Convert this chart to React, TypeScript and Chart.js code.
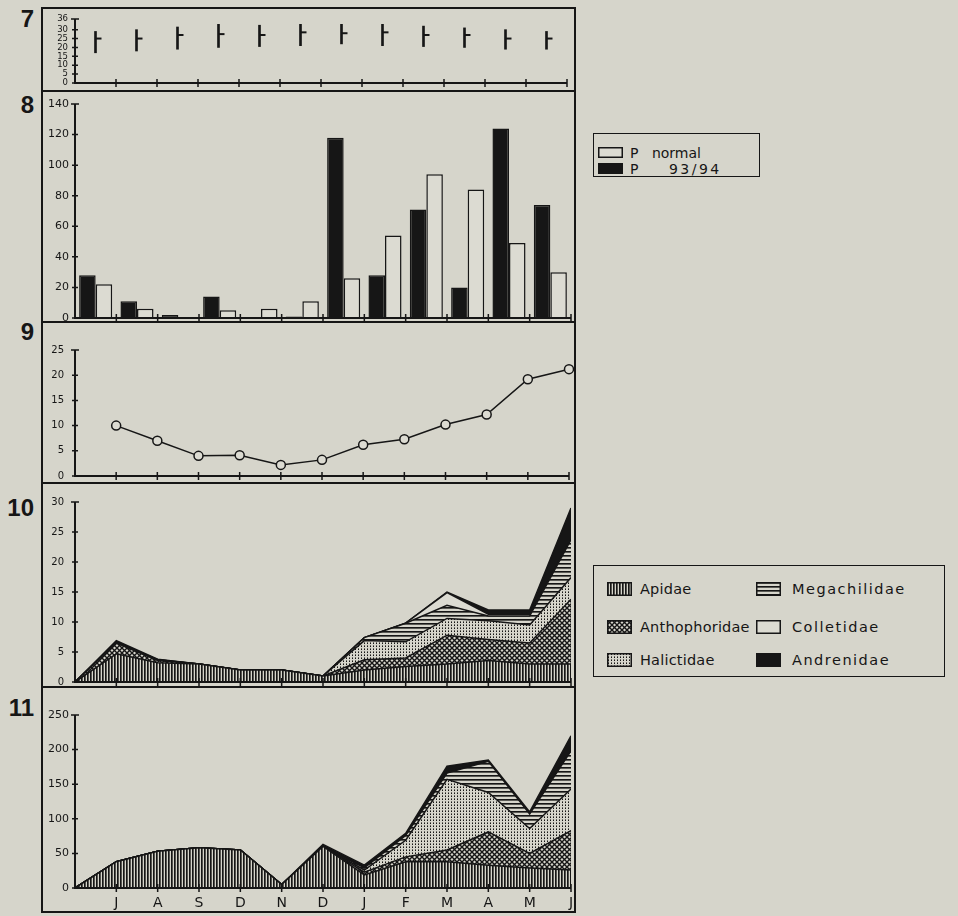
import React, { useEffect, useRef } from 'react';
import { Chart, registerables } from 'chart.js';

Chart.register(...registerables);

const BG = '#d6d5cb';
const INK = '#161616';
const LIGHT = '#dcdbd2';
const FONT = 'DejaVu Sans';

// ---------- data ----------
const months = ['J', 'A', 'S', 'D', 'N', 'D', 'J', 'F', 'M', 'A', 'M', 'J'];

// Panel 7 – temperature range (°C)
const tempTicks = [0, 5, 10, 15, 20, 25, 30, 36];
const tempMax = [29, 30, 31.5, 33, 32.5, 33, 33, 33, 32, 31, 30, 29];
const tempMin = [17, 18, 19, 20, 20.5, 21, 22, 21, 20.5, 20, 19, 19];
const tempMean = [25, 25, 27, 27.5, 27, 28.5, 28, 28.5, 27, 27, 25, 25];

// Panel 8 – precipitation
const precipTicks = [0, 20, 40, 60, 80, 100, 120, 140];
const precip9394 = [28, 11, 2, 14, 0, 1, 118, 28, 71, 20, 124, 74];
const precipNormal = [22, 6, 0, 5, 6, 11, 26, 54, 94, 84, 49, 30];

// Panel 9 – line
const p9Ticks = [0, 5, 10, 15, 20, 25];
const p9Values = [10, 7, 4, 4.1, 2.2, 3.2, 6.2, 7.3, 10.2, 12.2, 19.2, 21.2];

// Panel 10 – stacked (positions 0..12)
const p10Ticks = [0, 5, 10, 15, 20, 25, 30];
const p10Apidae = [0, 4.7, 3.2, 3, 2, 2, 1, 2, 2.6, 3, 3.6, 3, 3];
const p10Anthophoridae = [0, 1.8, 0.4, 0, 0, 0, 0, 1.7, 1.4, 4.8, 3.5, 3.5, 10.8];
const p10Halictidae = [0, 0, 0, 0, 0, 0, 0, 3.2, 2.7, 2.8, 3.1, 3, 3.6];
const p10Megachilidae = [0, 0.1, 0.1, 0, 0, 0, 0, 0.5, 3.1, 2.2, 0.8, 1.5, 6.3];
const p10Colletidae = [0, 0, 0, 0, 0, 0, 0, 0, 0, 2.1, 0.3, 0.3, 0];
const p10Andrenidae = [0, 0.3, 0.1, 0, 0, 0, 0, 0, 0, 0.1, 0.7, 0.7, 5.3];

// Panel 11 – stacked (positions 0..12)
const p11Ticks = [0, 50, 100, 150, 200, 250];
const p11Apidae = [0, 38, 53, 58, 55, 5, 60, 19, 38, 38, 33, 29, 26];
const p11Anthophoridae = [0, 0, 0, 0, 0, 0, 0, 4, 7, 17, 48, 21, 57];
const p11Halictidae = [0, 0, 0, 0, 0, 0, 0, 3, 24, 102, 57, 36, 60];
const p11Megachilidae = [0, 0, 0, 0, 0, 0, 0, 3, 7, 9, 45, 21, 55];
const p11Colletidae = [0, 0, 0, 0, 0, 0, 0, 0, 0, 0, 0, 0, 0];
const p11Andrenidae = [0, 0, 0, 0, 0, 0, 3, 4, 3, 10, 2, 3, 22];

const familyNames = ['Apidae', 'Anthophoridae', 'Halictidae', 'Megachilidae', 'Colletidae', 'Andrenidae'];
const familyKinds = ['vertical', 'cross', 'dots', 'horizontal', 'white', 'black'];

// ---------- helpers ----------
function makeFill(ctx: CanvasRenderingContext2D, kind: string): any {
  if (kind === 'white') return LIGHT;
  if (kind === 'black') return INK;
  const c = document.createElement('canvas');
  const g = c.getContext('2d')!;
  if (kind === 'vertical') {
    c.width = 3; c.height = 2;
    g.fillStyle = BG; g.fillRect(0, 0, 3, 2);
    g.fillStyle = INK; g.fillRect(0, 0, 1, 2);
    g.fillStyle = '#55544f'; g.fillRect(1, 0, 1, 2);
  } else if (kind === 'cross') {
    c.width = 5; c.height = 5;
    g.fillStyle = BG; g.fillRect(0, 0, 5, 5);
    g.strokeStyle = INK; g.lineWidth = 1.4;
    g.beginPath();
    g.moveTo(-1, -1); g.lineTo(6, 6);
    g.moveTo(6, -1); g.lineTo(-1, 6);
    g.stroke();
  } else if (kind === 'dots') {
    c.width = 3; c.height = 3;
    g.fillStyle = BG; g.fillRect(0, 0, 3, 3);
    g.fillStyle = INK; g.fillRect(1, 1, 1, 1);
    g.fillStyle = '#6a6962'; g.fillRect(1, 0, 1, 1);
  } else if (kind === 'horizontal') {
    c.width = 2; c.height = 4;
    g.fillStyle = BG; g.fillRect(0, 0, 2, 4);
    g.fillStyle = INK; g.fillRect(0, 0, 2, 1);
    g.fillStyle = '#5a5a55'; g.fillRect(0, 1, 2, 1);
  }
  return ctx.createPattern(c, 'repeat');
}

const axesPlugin = {
  id: 'frameAxes',
  afterDatasetsDraw(chart: any) {
    const { ctx, chartArea: a, scales } = chart;
    const y = scales.y;
    const y0 = y.getPixelForValue(0);
    const yTop = y.getPixelForValue(y.max);
    ctx.save();
    ctx.strokeStyle = INK;
    ctx.lineWidth = 2;
    ctx.beginPath();
    ctx.moveTo(a.left, yTop);
    ctx.lineTo(a.left, y0);
    ctx.moveTo(a.left - 1, y0);
    ctx.lineTo(a.right, y0);
    ctx.stroke();
    ctx.lineWidth = 1.5;
    ctx.beginPath();
    y.ticks.forEach((t: any) => {
      const p = y.getPixelForValue(t.value);
      const w = t.value === y.max ? 4 : 3;
      ctx.moveTo(a.left - w, p);
      ctx.lineTo(a.left + w, p);
    });
    for (let k = 1; k <= 12; k++) {
      const px = a.left + ((a.right - a.left) * k) / 12;
      ctx.moveTo(px, y0 - 4);
      ctx.lineTo(px, y0 + 4);
    }
    ctx.stroke();
    ctx.restore();
  },
};

const Y_AXIS_W = 33;

function yScale(max: number, ticks: number[], fontSize: number, pad: number, stacked = false) {
  return {
    min: 0,
    max,
    stacked,
    afterBuildTicks: (s: any) => {
      s.ticks = ticks.map((v) => ({ value: v }));
    },
    afterFit: (s: any) => {
      s.width = Y_AXIS_W;
      s.paddingTop = 0;
      s.paddingBottom = 0;
    },
    grid: { display: false, drawTicks: false },
    border: { display: false },
    ticks: { padding: pad, color: INK, autoSkip: false, font: { family: FONT, size: fontSize } },
  };
}

function baseOptions(padTop: number, padBottom: number, x: any, y: any) {
  return {
    responsive: false,
    animation: false,
    devicePixelRatio: 1,
    layout: { padding: { left: 0, right: 4, top: padTop, bottom: padBottom } },
    plugins: { legend: { display: false }, tooltip: { enabled: false } },
    scales: { x, y },
  };
}

const categoryX = { type: 'category', display: false, offset: true, grid: { offset: true } };
const linearX = { type: 'linear', display: false, min: 0, max: 12 };

function stackedDatasets(ctx: CanvasRenderingContext2D, series: number[][]) {
  return series.map((vals, i) => ({
    label: familyNames[i],
    data: vals.map((v, k) => ({ x: k, y: v })),
    fill: i === 0 ? 'origin' : '-1',
    backgroundColor: makeFill(ctx, familyKinds[i]),
    borderColor: INK,
    borderWidth: 1.5,
    pointRadius: 0,
    tension: 0,
  }));
}

const FRAME_L = 42;
const FRAME_R = 575;
const CANVAS_LEFT = FRAME_L;
const CANVAS_W = FRAME_R - FRAME_L;

function ChartPanel({ top, height, make }: { top: number; height: number; make: (ctx: CanvasRenderingContext2D) => any }) {
  const ref = useRef<HTMLCanvasElement>(null);
  useEffect(() => {
    const c = ref.current!;
    const chart = new Chart(c, make(c.getContext('2d')!));
    return () => chart.destroy();
  }, []);
  return (
    <canvas
      ref={ref}
      width={CANVAS_W}
      height={height}
      style={{ position: 'absolute', left: CANVAS_LEFT, top, width: CANVAS_W, height }}
    />
  );
}

function Swatch({ kind, left, top, w, h }: { kind: string; left: number; top: number; w: number; h: number }) {
  const ref = useRef<HTMLCanvasElement>(null);
  useEffect(() => {
    const c = ref.current!;
    const g = c.getContext('2d')!;
    g.fillStyle = makeFill(g, kind);
    g.fillRect(0, 0, w, h);
    g.strokeStyle = INK;
    g.lineWidth = 1.5;
    g.strokeRect(0.75, 0.75, w - 1.5, h - 1.5);
  }, []);
  return <canvas ref={ref} width={w} height={h} style={{ position: 'absolute', left, top }} />;
}

// ---------- chart configs ----------
const make7 = (ctx: CanvasRenderingContext2D) => ({
  type: 'bar',
  data: {
    labels: months,
    datasets: [
      { type: 'bar', data: tempMin.map((v, i) => [v, tempMax[i]]), backgroundColor: INK, borderWidth: 0, barThickness: 2 },
      {
        type: 'line', data: tempMean, showLine: false, pointStyle: 'dash', pointRadius: 6,
        pointBorderWidth: 2, borderColor: INK, pointBorderColor: INK,
      },
    ],
  },
  options: baseOptions(11, 1, categoryX, yScale(36, tempTicks, 8.5, 7)),
  plugins: [axesPlugin],
});

const make8 = (ctx: CanvasRenderingContext2D) => ({
  type: 'bar',
  data: {
    labels: months,
    datasets: [
      { label: 'P 93/94', data: precip9394, backgroundColor: INK, borderColor: INK, borderWidth: 1.5, categoryPercentage: 0.8, barPercentage: 1 },
      { label: 'P normal', data: precipNormal, backgroundColor: LIGHT, borderColor: INK, borderWidth: 1.5, categoryPercentage: 0.8, barPercentage: 1 },
    ],
  },
  options: baseOptions(13, 4, categoryX, yScale(140, precipTicks, 11, 6)),
  plugins: [axesPlugin],
});

const make9 = (ctx: CanvasRenderingContext2D) => ({
  type: 'line',
  data: {
    datasets: [
      {
        data: p9Values.map((v, i) => ({ x: i + 1, y: v })),
        borderColor: INK, borderWidth: 1.5, tension: 0, clip: false,
        pointRadius: 4.5, pointBackgroundColor: LIGHT, pointBorderColor: INK, pointBorderWidth: 1.5,
      },
    ],
  },
  options: baseOptions(28, 7, linearX, yScale(25, p9Ticks, 10, 11)),
  plugins: [axesPlugin],
});

const make10 = (ctx: CanvasRenderingContext2D) => ({
  type: 'line',
  data: {
    datasets: stackedDatasets(ctx, [p10Apidae, p10Anthophoridae, p10Halictidae, p10Megachilidae, p10Colletidae, p10Andrenidae]),
  },
  options: baseOptions(19, 5, linearX, yScale(30, p10Ticks, 10, 11, true)),
  plugins: [axesPlugin],
});

const make11 = (ctx: CanvasRenderingContext2D) => ({
  type: 'line',
  data: {
    datasets: stackedDatasets(ctx, [p11Apidae, p11Anthophoridae, p11Halictidae, p11Megachilidae, p11Colletidae, p11Andrenidae]),
  },
  options: baseOptions(
    28,
    0,
    {
      type: 'linear',
      min: 0,
      max: 12,
      afterBuildTicks: (s: any) => {
        s.ticks = months.map((_, i) => ({ value: i + 1 }));
      },
      afterFit: (s: any) => {
        s.height = 24;
        s.paddingLeft = 0;
        s.paddingRight = 0;
      },
      grid: { display: false, drawTicks: false },
      border: { display: false },
      ticks: {
        padding: 7, color: INK, autoSkip: false, maxRotation: 0,
        font: { family: FONT, size: 14 },
        callback: (v: any) => months[Number(v) - 1] ?? '',
      },
    },
    yScale(250, p11Ticks, 11, 6, true)
  ),
  plugins: [axesPlugin],
});

// ---------- layout ----------
const panels = [
  { id: '7', top: 8, bottom: 91, labelY: 19, make: make7 },
  { id: '8', top: 91, bottom: 322, labelY: 105, make: make8 },
  { id: '9', top: 322, bottom: 483, labelY: 332, make: make9 },
  { id: '10', top: 483, bottom: 687, labelY: 508, make: make10 },
  { id: '11', top: 687, bottom: 912, labelY: 708, make: make11 },
];

function Line({ x, y, w, h }: { x: number; y: number; w: number; h: number }) {
  return <div style={{ position: 'absolute', left: x, top: y, width: w, height: h, background: INK }} />;
}

const textStyle: React.CSSProperties = {
  position: 'absolute',
  fontFamily: FONT,
  color: INK,
  whiteSpace: 'pre',
  lineHeight: '16px',
};

export default function App() {
  const legendRows = [
    [0, 3],
    [1, 4],
    [2, 5],
  ];
  const rowY = [589, 627, 660];
  return (
    <div
      style={{
        position: 'absolute', left: 0, top: 0, width: 958, height: 916,
        background: BG, overflow: 'hidden',
      }}
    >
      {/* frame */}
      <Line x={FRAME_L - 1} y={8} w={2} h={905} />
      <Line x={FRAME_R - 1} y={8} w={2} h={905} />
      {panels.map((p) => (
        <Line key={'t' + p.id} x={FRAME_L - 1} y={p.top - 1} w={FRAME_R - FRAME_L + 2} h={2} />
      ))}
      <Line x={FRAME_L - 1} y={911} w={FRAME_R - FRAME_L + 2} h={2} />

      {panels.map((p) => (
        <React.Fragment key={p.id}>
          <div
            style={{
              position: 'absolute', right: 958 - 34, top: p.labelY - 13, fontFamily: 'Liberation Sans',
              fontWeight: 'bold', fontSize: 24, lineHeight: '26px', color: INK,
            }}
          >
            {p.id}
          </div>
          <ChartPanel top={p.top} height={p.bottom - p.top} make={p.make} />
        </React.Fragment>
      ))}

      {/* legend for panel 8 */}
      <div style={{ position: 'absolute', left: 593, top: 133, width: 167, height: 44, border: `1.5px solid ${INK}`, boxSizing: 'border-box' }} />
      <Swatch kind="white" left={598} top={147} w={25} h={11} />
      <div style={{ ...textStyle, left: 630, top: 145, fontSize: 14, wordSpacing: 9 }}>P normal</div>
      <Swatch kind="black" left={598} top={163} w={25} h={11} />
      <div style={{ ...textStyle, left: 630, top: 161, fontSize: 14, wordSpacing: 21, letterSpacing: 2.5 }}>P 93/94</div>

      {/* legend for panels 10-11 */}
      <div style={{ position: 'absolute', left: 593, top: 565, width: 352, height: 112, border: `1.5px solid ${INK}`, boxSizing: 'border-box' }} />
      {legendRows.map((row, r) => (
        <React.Fragment key={r}>
          <Swatch kind={familyKinds[row[0]]} left={607} top={rowY[r] - 7} w={25} h={14} />
          <div style={{ ...textStyle, left: 640, top: rowY[r] - 8, fontSize: 14.5, letterSpacing: 0.2 }}>{familyNames[row[0]]}</div>
          <Swatch kind={familyKinds[row[1]]} left={756} top={rowY[r] - 7} w={25} h={14} />
          <div style={{ ...textStyle, left: 792, top: rowY[r] - 8, fontSize: 14.5, letterSpacing: 1.5 }}>{familyNames[row[1]]}</div>
        </React.Fragment>
      ))}
    </div>
  );
}
